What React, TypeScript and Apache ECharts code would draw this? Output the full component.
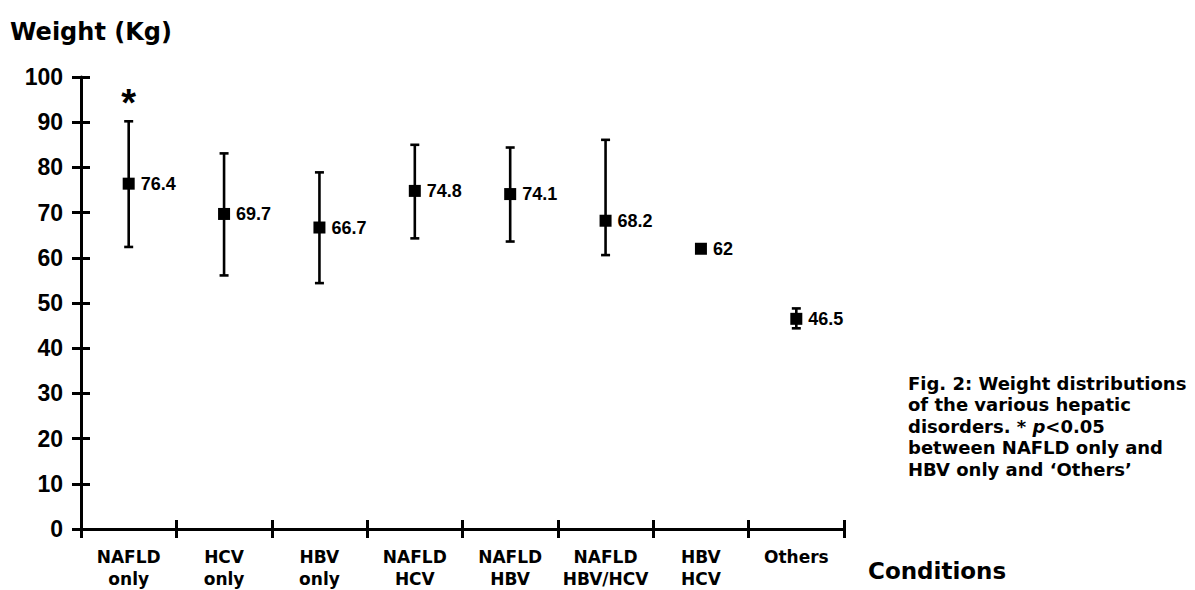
import React, { useEffect, useRef } from "react";
import * as echarts from "echarts";

const categories = [
  "NAFLD\nonly",
  "HCV\nonly",
  "HBV\nonly",
  "NAFLD\nHCV",
  "NAFLD\nHBV",
  "NAFLD\nHBV/HCV",
  "HBV\nHCV",
  "Others",
];
const means = [76.4, 69.7, 66.7, 74.8, 74.1, 68.2, 62, 46.5];
const lows: (number | null)[] = [62.4, 56.1, 54.4, 64.3, 63.6, 60.6, null, 44.4];
const highs: (number | null)[] = [90.2, 83.1, 78.9, 85.0, 84.4, 86.1, null, 48.8];
const significance = ["*", "", "", "", "", "", "", ""];
const yTicks = { min: 0, max: 100, interval: 10 };

const verdana = "Verdana, 'DejaVu Sans', sans-serif";
const arial = "Arial, 'Liberation Sans', sans-serif";

export default function App() {
  const ref = useRef<HTMLDivElement>(null);
  useEffect(() => {
    document.body.style.margin = "0";
    const chart = echarts.init(ref.current!, null, { renderer: "svg" });
    const yBase = {
      type: "value",
      min: yTicks.min,
      max: yTicks.max,
      interval: yTicks.interval,
      splitLine: { show: false },
    };
    const xBase = {
      type: "category",
      data: categories,
      boundaryGap: true,
      splitLine: { show: false },
    };
    const option = {
      animation: false,
      backgroundColor: "#fff",
      grid: { left: 81, top: 77, width: 763, height: 459, containLabel: false },
      xAxis: [
        {
          ...xBase,
          axisLine: { show: true, lineStyle: { color: "#000", width: 3 } },
          axisTick: { show: true, interval: 0, length: 9, lineStyle: { color: "#000", width: 3 } },
          axisLabel: {
            interval: 0,
            color: "#000",
            fontFamily: verdana,
            fontWeight: "bold",
            fontSize: 17,
            lineHeight: 22,
            margin: 17,
          },
        },
        {
          ...xBase,
          position: "bottom",
          axisLine: { show: false },
          axisTick: { show: true, inside: true, interval: 0, length: 9, lineStyle: { color: "#000", width: 3 } },
          axisLabel: { show: false },
        },
      ],
      yAxis: [
        {
          ...yBase,
          axisLine: { show: true, lineStyle: { color: "#000", width: 3 } },
          axisTick: { show: true, length: 9, lineStyle: { color: "#000", width: 3 } },
          axisLabel: {
            color: "#000",
            fontFamily: arial,
            fontWeight: "bold",
            fontSize: 23,
            margin: 18,
          },
        },
        {
          ...yBase,
          position: "left",
          axisLine: { show: false },
          axisTick: { show: true, inside: true, length: 9, lineStyle: { color: "#000", width: 3 } },
          axisLabel: { show: false },
        },
      ],
      graphic: [
        {
          type: "text",
          left: 10,
          top: 20,
          style: {
            text: "Weight (Kg)",
            font: `bold 24px ${verdana}`,
            fill: "#000",
          },
        },
        {
          type: "text",
          left: 868,
          top: 559,
          style: {
            text: "Conditions",
            font: `bold 23px ${verdana}`,
            fill: "#000",
          },
        },
        {
          type: "text",
          left: 908,
          top: 374,
          style: {
            text:
              "{b|Fig. 2: Weight distributions}\n{b|of the various hepatic}\n{b|disorders. * }{i|p}{b|<0.05}\n{b|between NAFLD only and}\n{b|HBV only and \u2018Others\u2019}",
            rich: {
              b: { font: `bold 18px ${verdana}`, fill: "#000", lineHeight: 21.5 },
              i: { font: `italic bold 18px ${verdana}`, fill: "#000", lineHeight: 21.5 },
            },
          },
        },
      ],
      series: [
        {
          type: "custom",
          xAxisIndex: 0,
          yAxisIndex: 0,
          z: 2,
          data: categories.map((_, i) => [i, lows[i] ?? NaN, highs[i] ?? NaN]),
          encode: { x: 0, y: [1, 2] },
          renderItem: (params: any, api: any) => {
            const x = api.value(0);
            const lo = api.value(1);
            const hi = api.value(2);
            if (lo == null || hi == null || isNaN(lo) || isNaN(hi)) return null;
            const pLo = api.coord([x, lo]);
            const pHi = api.coord([x, hi]);
            const w = 4.5;
            const st = { stroke: "#000", lineWidth: 2.6 };
            return {
              type: "group",
              children: [
                { type: "line", shape: { x1: pLo[0], y1: pLo[1], x2: pHi[0], y2: pHi[1] }, style: st },
                { type: "line", shape: { x1: pHi[0] - w, y1: pHi[1], x2: pHi[0] + w, y2: pHi[1] }, style: st },
                { type: "line", shape: { x1: pLo[0] - w, y1: pLo[1], x2: pLo[0] + w, y2: pLo[1] }, style: st },
              ],
            };
          },
        },
        {
          type: "scatter",
          z: 3,
          symbol: "rect",
          symbolSize: 12,
          itemStyle: { color: "#000", opacity: 1 },
          data: means,
          label: {
            show: true,
            position: "right",
            distance: 6,
            color: "#000",
            opacity: 1,
            fontFamily: arial,
            fontWeight: "bold",
            fontSize: 18,
            formatter: (p: any) => String(p.value),
          },
        },
        {
          type: "scatter",
          z: 3,
          symbol: "rect",
          symbolSize: 1,
          itemStyle: { color: "rgba(0,0,0,0)", opacity: 1 },
          data: categories.map((_, i) => (significance[i] ? highs[i] : null)),
          label: {
            show: true,
            position: "top",
            distance: -1,
            color: "#000",
            fontFamily: arial,
            fontWeight: "bold",
            fontSize: 38,
            formatter: (p: any) => significance[p.dataIndex] || "",
          },
        },
      ],
    };
    chart.setOption(option as any);
    return () => chart.dispose();
  }, []);
  return (
    <div
      ref={ref}
      style={{ position: "fixed", left: 0, top: 0, width: 1195, height: 590 }}
    />
  );
}
